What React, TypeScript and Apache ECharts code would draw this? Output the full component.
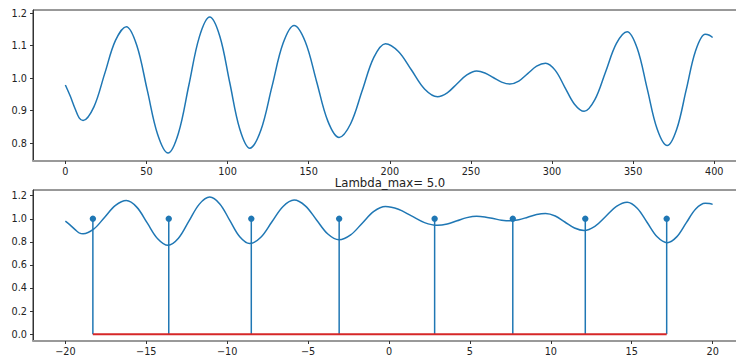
import React, { useEffect, useRef } from 'react';
import * as echarts from 'echarts';

// Top panel: sample index vs signal value
const sampleIndex = [
  0, 3, 6, 8.5, 10.9,
  17.6, 24.25, 30.9, 37.6,
  44.0, 50.45, 56.9, 63.3,
  69.7, 76.15, 82.6, 89.0,
  95.2, 101.35, 107.5, 113.7,
  120.5, 127.35, 134.2, 141.0,
  147.9, 154.85, 161.8, 168.7,
  175.85, 183.0, 190.15, 197.3,
  205.3, 213.35, 221.4, 229.4,
  235.4, 241.45, 247.5, 253.5,
  258.6, 263.75, 268.9, 274.0,
  279.5, 285.0, 290.5, 296.0,
  302.0, 307.9, 313.85, 319.8,
  326.4, 333.05, 339.7, 346.3,
  352.5, 358.65, 364.8, 371.0,
  376.85, 382.7, 388.55, 394.4,
  397, 399,
];
const signalValues = [
  0.979, 0.945, 0.906, 0.878, 0.870,
  0.912, 1.014, 1.116, 1.158,
  1.101, 0.964, 0.827, 0.770,
  0.831, 0.979, 1.127, 1.188,
  1.129, 0.986, 0.844, 0.785,
  0.840, 0.974, 1.107, 1.162,
  1.112, 0.990, 0.868, 0.818,
  0.860, 0.962, 1.064, 1.106,
  1.082, 1.025, 0.967, 0.943,
  0.955, 0.983, 1.010, 1.022,
  1.016, 1.002, 0.988, 0.982,
  0.991, 1.014, 1.037, 1.046,
  1.024, 0.972, 0.920, 0.898,
  0.934, 1.020, 1.107, 1.143,
  1.092, 0.968, 0.844, 0.793,
  0.843, 0.964, 1.085, 1.135,
  1.132, 1.125,
];
const lastIndex = 399;
const lambdaRange = [-20, 20];

// Bottom panel stems
const stemPositions = [-18.3, -13.61, -8.51, -3.08, 2.82, 7.65, 12.13, 17.16];
const stemValues = [1, 1, 1, 1, 1, 1, 1, 1];

// Tick labels
const topXTicks = [0, 50, 100, 150, 200, 250, 300, 350, 400];
const topYTicks = [0.8, 0.9, 1.0, 1.1, 1.2];
const bottomXTicks = [-20, -15, -10, -5, 0, 5, 10, 15, 20];
const bottomYTicks = [0.0, 0.2, 0.4, 0.6, 0.8, 1.0, 1.2];

const titleText = 'Lambda_max= 5.0';

const FONT = 'DejaVu Sans';
const BLUE = '#1f77b4';
const RED = '#d62728';
const DARK = '#333333';

function fmtNum(v: number, dec: number) {
  const s = Math.abs(v).toFixed(dec);
  return v < 0 ? '\u2212' + s : s;
}

function xAxisCfg(gridIndex: number, min: number, max: number, ticks: number[], dec: number) {
  return {
    type: 'value',
    gridIndex,
    min,
    max,
    axisLine: { show: true, onZero: false, lineStyle: { color: '#999999', width: 2 } },
    axisTick: { show: true, customValues: ticks, length: 3, lineStyle: { color: DARK, width: 1 } },
    axisLabel: {
      customValues: ticks,
      color: '#222222',
      fontSize: 9.7,
      lineHeight: 10,
      fontFamily: FONT,
      margin: 5,
      formatter: (v: number) => fmtNum(v, dec),
    },
    splitLine: { show: false },
  };
}

function yAxisCfg(gridIndex: number, min: number, max: number, ticks: number[]) {
  return {
    type: 'value',
    gridIndex,
    min,
    max,
    axisLine: { show: true, onZero: false, lineStyle: { color: DARK, width: 1 } },
    axisTick: { show: true, customValues: ticks, length: 3, lineStyle: { color: DARK, width: 1 } },
    axisLabel: {
      customValues: ticks,
      color: '#222222',
      fontSize: 9.7,
      fontFamily: FONT,
      margin: 6,
      formatter: (v: number) => fmtNum(v, 1),
    },
    splitLine: { show: false },
  };
}

export default function App() {
  const ref = useRef<HTMLDivElement>(null);
  useEffect(() => {
    if (!ref.current) return;
    const chart = echarts.init(ref.current, null, { renderer: 'svg' });
    const topData = sampleIndex.map((x, i) => [x, signalValues[i]]);
    const bottomData = sampleIndex.map((x, i) => [
      lambdaRange[0] + (x * (lambdaRange[1] - lambdaRange[0])) / lastIndex,
      signalValues[i],
    ]);
    const stemData = stemPositions.map((x, i) => [x, stemValues[i]]);
    const baseData = [
      [stemPositions[0], 0],
      [stemPositions[stemPositions.length - 1], 0],
    ];
    chart.setOption({
      animation: false,
      backgroundColor: '#ffffff',
      title: {
        text: titleText,
        left: 390,
        top: 178,
        padding: 0,
        textAlign: 'center',
        textStyle: {
          fontFamily: FONT,
          fontSize: 11.7,
          lineHeight: 10,
          fontWeight: 'normal',
          color: '#222222',
        },
      },
      grid: [
        { left: 33, top: 10, width: 712, height: 151, show: true, borderColor: DARK, borderWidth: 1, backgroundColor: 'transparent' },
        { left: 33, top: 190, width: 712, height: 151, show: true, borderColor: DARK, borderWidth: 1, backgroundColor: 'transparent' },
      ],
      xAxis: [
        xAxisCfg(0, -19.95, 418.95, topXTicks, 0),
        xAxisCfg(1, -22, 22, bottomXTicks, 0),
      ],
      yAxis: [
        yAxisCfg(0, 0.7455, 1.2095, topYTicks),
        yAxisCfg(1, -0.0595, 1.2495, bottomYTicks),
      ],
      series: [
        {
          type: 'line',
          xAxisIndex: 0,
          yAxisIndex: 0,
          data: topData,
          smooth: 0.35,
          showSymbol: false,
          lineStyle: { color: BLUE, width: 1.5 },
        },
        {
          type: 'line',
          xAxisIndex: 1,
          yAxisIndex: 1,
          data: bottomData,
          smooth: 0.35,
          showSymbol: false,
          lineStyle: { color: BLUE, width: 1.5 },
        },
        {
          type: 'custom',
          xAxisIndex: 1,
          yAxisIndex: 1,
          data: stemData,
          renderItem: (params: any, api: any) => {
            const x = api.value(0);
            const y = api.value(1);
            const p0 = api.coord([x, 0]);
            const p1 = api.coord([x, y]);
            return {
              type: 'group',
              children: [
                {
                  type: 'line',
                  shape: { x1: p0[0], y1: p0[1], x2: p1[0], y2: p1[1] },
                  style: { stroke: BLUE, lineWidth: 1.5 },
                },
                {
                  type: 'circle',
                  shape: { cx: p1[0], cy: p1[1], r: 3.2 },
                  style: { fill: BLUE },
                },
              ],
            };
          },
        },
        {
          type: 'line',
          xAxisIndex: 1,
          yAxisIndex: 1,
          data: baseData,
          showSymbol: false,
          lineStyle: { color: RED, width: 2 },
        },
      ],
    });
    return () => chart.dispose();
  }, []);
  return (
    <div style={{ position: 'fixed', left: 0, top: 0, width: 736, height: 358, overflow: 'hidden' }}>
      <div ref={ref} style={{ width: 760, height: 358 }} />
    </div>
  );
}
